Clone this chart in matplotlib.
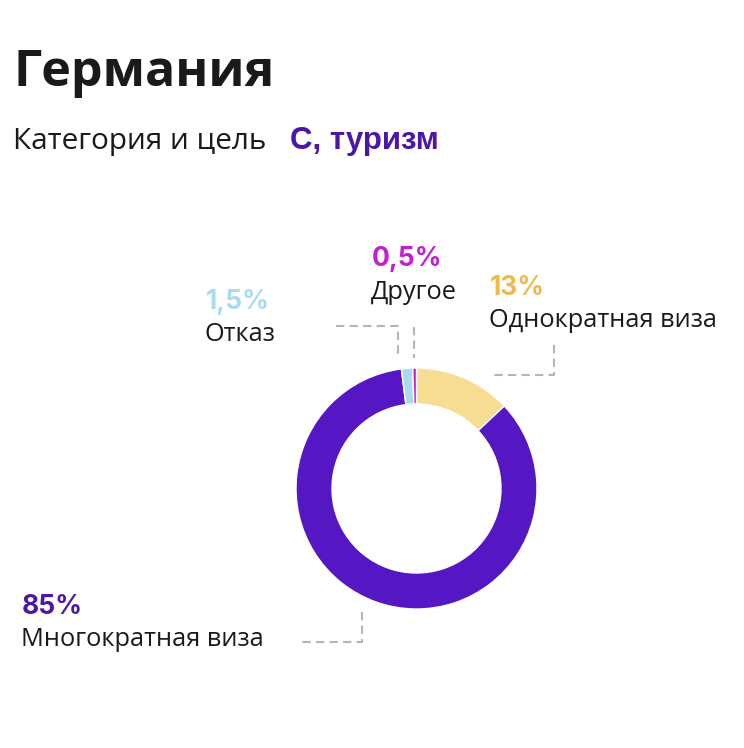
import matplotlib.pyplot as plt

W, H = 744, 748

categories = ["Однократная виза", "Многократная виза", "Отказ", "Другое"]
shares = [13, 85, 1.5, 0.5]
share_labels = ["13%", "85%", "1,5%", "0,5%"]
ring_colors = ["#f6dd92", "#5516c3", "#a9dbef", "#c21fd1"]
label_colors = ["#f0b84a", "#4a17a8", "#a9dbef", "#c21fd1"]

PURPLE = "#4a17a8"
GREY = "#b5b5b5"


def y(px):
    return H - px


fig = plt.figure(figsize=(W / 100, H / 100), dpi=100)
ax = fig.add_axes([0, 0, 1, 1])

ax.pie(shares, colors=ring_colors, startangle=90, counterclock=False,
       center=(416.5, y(488.5)), radius=120.5, frame=True,
       wedgeprops=dict(width=36, edgecolor="white", linewidth=1))
ax.set_xlim(0, W)
ax.set_ylim(0, H)
ax.set_aspect("equal")
ax.axis("off")

ax.text(14, y(73), "Германия", fontsize=36.2, fontweight="bold", family="Open Sans",
        color="#1a1a1a", va="center", ha="left")
ax.text(13, y(141), "Категория и цель", fontsize=21.4, family="Open Sans",
        color="#1a1a1a", va="center", ha="left")
ax.text(290, y(141), "С, туризм", fontsize=22.5, fontweight="bold", family="Liberation Sans",
        color=PURPLE, va="center", ha="left")

# label anchor positions (px): percent line and name line
anchors = {
    "Однократная виза": (490, 288, 320),
    "Многократная виза": (22, 607, 640),
    "Отказ": (206, 302, 334),
    "Другое": (372, 259, 292),
}
for name, pct, col in zip(categories, share_labels, label_colors):
    x0, yp, yn = anchors[name]
    ax.text(x0, y(yp), pct, fontsize=19, fontweight="bold", family="Inter",
            color=col, va="center", ha="left")
    ax.text(x0 - 1, y(yn), name, fontsize=18.3, family="Open Sans",
            color="#1a1a1a", va="center", ha="left")

dash = dict(color=GREY, linewidth=1.5, linestyle=(0, (4, 2.5)))
ax.plot([336, 398, 398], [y(326), y(326), y(358)], **dash)
ax.plot([414, 414], [y(327), y(358)], **dash)
ax.plot([554, 554, 490], [y(345), y(375), y(375)], **dash)
ax.plot([362, 362, 298], [y(612), y(642), y(642)], **dash)

fig.savefig("out.png", dpi=100, facecolor="white")
